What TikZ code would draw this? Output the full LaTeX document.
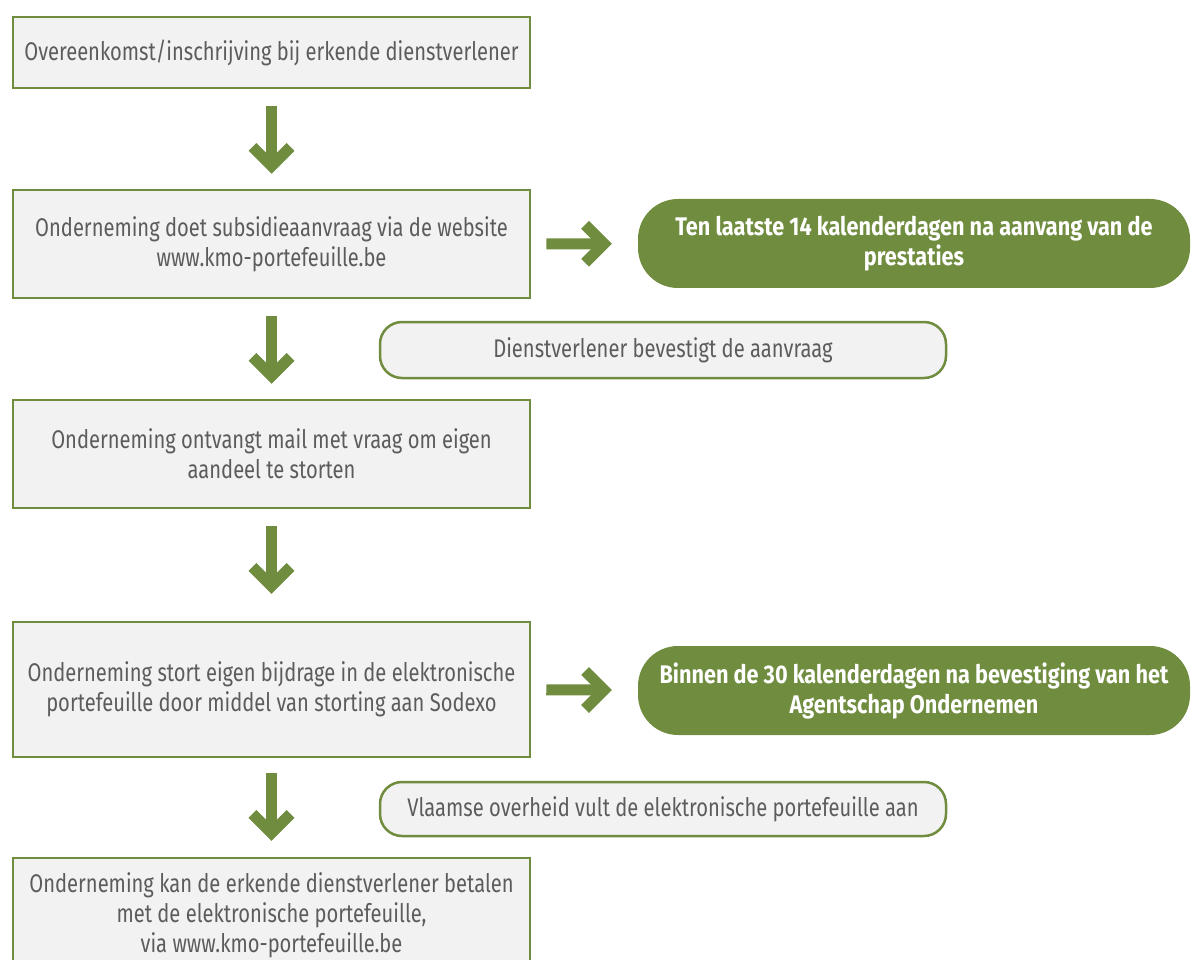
\documentclass[tikz,border=0pt]{standalone}
\usepackage{fontspec}
\setmainfont{Fira Sans}[FakeStretch=0.79]
\newfontfamily\termijnfont{Fira Sans}[FakeStretch=0.85]
\usetikzlibrary{arrows.meta}

\definecolor{kmogreen}{HTML}{708C3F}
\definecolor{kmogray}{HTML}{5C5C5C}
\definecolor{kmofill}{HTML}{F2F2F2}

\begin{document}
\begin{tikzpicture}[x=1pt, y=-1pt,
    stepbox/.style={draw=kmogreen, line width=2.5pt, fill=kmofill, text=kmogray,
        align=center, minimum width=517pt, inner sep=0pt,
        font=\fontsize{25.5}{30}\selectfont},
    notebox/.style={stepbox, rounded corners=22pt, minimum width=566pt},
    deadline/.style={fill=kmogreen, text=white, align=center, inner sep=0pt,
        rounded corners=40pt, minimum width=552pt, minimum height=89pt,
        font=\termijnfont\fontsize{25.5}{30}\selectfont\bfseries},
    bigarrow/.style={draw=kmogreen, line width=11pt,
        -{Straight Barb[length=19pt, width=38pt, sharp]}}
]
\useasboundingbox (0,0) rectangle (1192,960);

% Stappen
\node[stepbox, minimum height=71pt] (aanmelding) at (271.5,52.5)
    {Overeenkomst/inschrijving bij erkende dienstverlener};
\node[stepbox, minimum height=108pt] (aanvraag) at (271.5,244)
    {Onderneming doet subsidieaanvraag via de website\\www.kmo-portefeuille.be};
\node[stepbox, minimum height=108pt] (mail) at (271.5,454)
    {Onderneming ontvangt mail met vraag om eigen\\aandeel te storten};
\node[stepbox, minimum height=135pt] (storting) at (271.5,689.5)
    {Onderneming stort eigen bijdrage in de elektronische\\portefeuille door middel van storting aan Sodexo};
\node[stepbox, minimum height=114pt] (betaling) at (271.5,915)
    {Onderneming kan de erkende dienstverlener betalen\\met de elektronische portefeuille,\\via www.kmo-portefeuille.be};

% Termijnen
\node[deadline] (termijn1) at (914,243.5)
    {Ten laatste 14 kalenderdagen na aanvang van de\\prestaties};
\node[deadline] (termijn2) at (914,690.5)
    {Binnen de 30 kalenderdagen na bevestiging van het\\Agentschap Ondernemen};

% Tussenstappen
\node[notebox, minimum height=56pt] (bevestiging) at (663,350)
    {Dienstverlener bevestigt de aanvraag};
\node[notebox, minimum height=54pt] (aanvulling) at (663,809)
    {Vlaamse overheid vult de elektronische portefeuille aan};

% Pijlen
\draw[bigarrow, shorten <=17pt, shorten >=15pt] (aanmelding) -- (aanvraag);
\draw[bigarrow, shorten <=17pt, shorten >=15pt] (aanvraag) -- (mail);
\draw[bigarrow, shorten <=17pt, shorten >=27pt] (mail) -- (storting);
\draw[bigarrow, shorten <=15pt, shorten >=16pt] (storting) -- (betaling);
\draw[bigarrow, shorten <=15pt, shorten >=26pt] (aanvraag) -- (termijn1);
\draw[bigarrow, shorten <=15pt, shorten >=26pt] (storting) -- (termijn2);

\end{tikzpicture}
\end{document}
